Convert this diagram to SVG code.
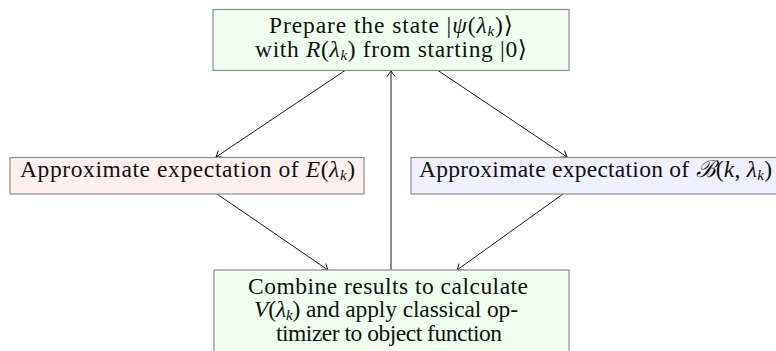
<svg xmlns="http://www.w3.org/2000/svg" width="776" height="351" viewBox="0 0 776 351">
<defs>
<style>
.box{stroke:#8c8c8c;stroke-width:1.2}
.g{fill:#f0fff0}
.r{fill:#fff0f0}
.b{fill:#f0f0ff}
.t{font-family:'Liberation Serif','Times New Roman','DejaVu Serif',serif;font-size:23.5px;fill:#111;text-anchor:middle}
.i{font-style:italic}
.s{font-size:15px;font-style:italic}
.c{fill:none;stroke:#000;stroke-width:0.9}
</style>
<marker id="ah" markerUnits="userSpaceOnUse" markerWidth="14" markerHeight="14" viewBox="-8 -7 10 14" refX="0" refY="0" orient="auto">
<path d="M-5.5,-4 Q-1.5,-1 0,0 Q-1.5,1 -5.5,4" fill="none" stroke="#000" stroke-width="0.9"/>
</marker>
</defs>
<g id="connectors">
<line class="c" x1="345" y1="70.5" x2="216" y2="157" marker-end="url(#ah)"/>
<line class="c" x1="438" y1="70.5" x2="567" y2="157" marker-end="url(#ah)"/>
<line class="c" x1="391" y1="270" x2="391" y2="71" marker-end="url(#ah)"/>
<line class="c" x1="217" y1="194" x2="328" y2="270" marker-end="url(#ah)"/>
<line class="c" x1="563" y1="194" x2="457" y2="270" marker-end="url(#ah)"/>
</g>
<g id="prepare">
<rect class="box g" x="213" y="9.5" width="356" height="61"/>
<text class="t" x="391" y="33.3" textLength="244">Prepare the state |<tspan class="i">ψ</tspan>(<tspan class="i">λ</tspan><tspan class="s" dy="3">k</tspan><tspan dy="-3">)⟩</tspan></text>
<text class="t" x="391" y="56.7" textLength="272">with <tspan class="i">R</tspan>(<tspan class="i">λ</tspan><tspan class="s" dy="3">k</tspan><tspan dy="-3">) from starting |0⟩</tspan></text>
</g>
<g id="energy">
<rect class="box r" x="10" y="157.5" width="354" height="36.5"/>
<text class="t" x="187.5" y="176.5" textLength="335">Approximate expectation of <tspan class="i">E</tspan>(<tspan class="i">λ</tspan><tspan class="s" dy="3">k</tspan><tspan dy="-3">)</tspan></text>
</g>
<g id="bterm">
<rect class="box b" x="411" y="157.5" width="370" height="36.5"/>
<text class="t" x="595.5" y="176.5" textLength="353">Approximate expectation of <tspan class="i">ℬ</tspan>(<tspan class="i">k</tspan>, <tspan class="i">λ</tspan><tspan class="s" dy="3">k</tspan><tspan dy="-3">)</tspan></text>
</g>
<g id="combine">
<rect class="box g" x="214" y="270" width="355" height="90"/>
<text class="t" x="388" y="293.5" textLength="280">Combine results to calculate</text>
<text class="t" x="386" y="317" textLength="264"><tspan class="i">V</tspan>(<tspan class="i">λ</tspan><tspan class="s" dy="3">k</tspan><tspan dy="-3">) and apply classical op-</tspan></text>
<text class="t" x="389" y="340.5" textLength="226">timizer to object function</text>
</g>
</svg>
